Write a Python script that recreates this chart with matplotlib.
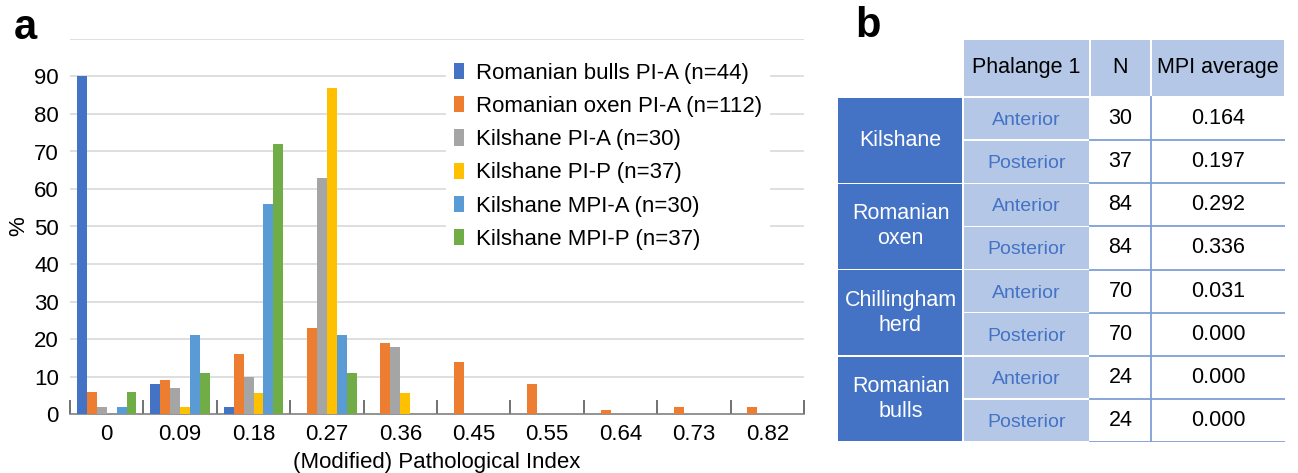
import numpy as np
import matplotlib
matplotlib.use('Agg')
from matplotlib import pyplot as plt
from matplotlib.patches import Rectangle

plt.rcParams['font.family'] = ['Liberation Sans', 'DejaVu Sans']

# ---- data, panel a ----
categories = ['0', '0.09', '0.18', '0.27', '0.36', '0.45', '0.55', '0.64', '0.73', '0.82']
series_names = ['Romanian bulls PI-A (n=44)', 'Romanian oxen PI-A (n=112)', 'Kilshane PI-A (n=30)',
                'Kilshane PI-P (n=37)', 'Kilshane MPI-A (n=30)', 'Kilshane MPI-P (n=37)']
bulls_pia = [90, 8, 2, 0, 0, 0, 0, 0, 0, 0]
oxen_pia = [6, 9, 16, 23, 19, 14, 8, 1, 2, 2]
kil_pia = [2, 7, 10, 63, 18, 0, 0, 0, 0, 0]
kil_pip = [0, 2, 5.5, 87, 5.5, 0, 0, 0, 0, 0]
kil_mpia = [2, 21, 56, 21, 0, 0, 0, 0, 0, 0]
kil_mpip = [6, 11, 72, 11, 0, 0, 0, 0, 0, 0]
colors = ['#4472C4', '#ED7D31', '#A5A5A5', '#FFC000', '#5B9BD5', '#70AD47']

# ---- data, panel b ----
table_header = ['Phalange 1', 'N', 'MPI average']
groups = ['Kilshane', 'Romanian\noxen', 'Chillingham\nherd', 'Romanian\nbulls']
phalange = ['Anterior', 'Posterior'] * 4
n_vals = [30, 37, 84, 84, 70, 70, 24, 24]
mpi_avg = [0.164, 0.197, 0.292, 0.336, 0.031, 0.000, 0.000, 0.000]

W, H = 1298, 473
fig = plt.figure(figsize=(W / 100, H / 100), dpi=100)

# ---------------- panel a ----------------
ax_h = 414 - 39
ax_w = 804 - 70
ax = fig.add_axes([70 / W, 1 - 414 / H, ax_w / W, ax_h / H])
all_series = [bulls_pia, oxen_pia, kil_pia, kil_pip, kil_mpia, kil_mpip]
x = np.arange(len(categories))
bw = 0.135
for i, s in enumerate(all_series):
    ax.bar(x + (i - 2.5) * bw, s, width=bw, color=colors[i], label=series_names[i], zorder=3)

ax.set_xlim(-0.5, len(categories) - 0.5)
ax.set_ylim(0, 100)
ax.set_yticks(np.arange(0, 100, 10))
for yv in np.arange(10, 101, 10):
    ax.axhline(yv, color='#D9D9D9', lw=1.2, zorder=1)
for sp in ['left', 'right', 'top']:
    ax.spines[sp].set_visible(False)
ax.spines['bottom'].set_color('#808080')
ax.spines['bottom'].set_linewidth(1.2)
ax.set_xticks(x)
ax.set_xticklabels(categories)
ax.set_xticks(np.arange(-0.5, len(categories)), minor=True)
ax.tick_params(axis='x', which='major', length=0, pad=7, labelsize=16)
ax.tick_params(axis='x', which='minor', direction='in', length=10, width=1.2, color='#595959')
ax.tick_params(axis='y', length=0, pad=8, labelsize=16)
ax.set_xlabel('(Modified) Pathological Index', fontsize=16, va='center')
ax.xaxis.set_label_coords(0.5, (414 - 462) / ax_h)
ax.set_ylabel('%', fontsize=16, va='center')
ax.yaxis.set_label_coords((19 - 70) / ax_w, 0.5)

leg = ax.legend(loc='upper left', bbox_to_anchor=((446 - 70) / ax_w, (414 - 55) / ax_h),
                fontsize=16, frameon=True, facecolor='white', edgecolor='none', framealpha=1,
                handlelength=0.45, handleheight=0.75, handletextpad=0.55, labelspacing=0.55,
                borderpad=0.35, borderaxespad=0, fancybox=False)
leg.set_zorder(5)

fig.text(14 / W, 1 - 28 / H, 'a', fontsize=30, fontweight='bold', va='center', ha='left')
fig.text(855 / W, 1 - 26 / H, 'b', fontsize=30, fontweight='bold', va='center', ha='left')

# ---------------- panel b ----------------
tx0, tx1, ty0, ty1 = 838, 1285, 40, 442
tb = fig.add_axes([tx0 / W, 1 - ty1 / H, (tx1 - tx0) / W, (ty1 - ty0) / H])
tb.set_xlim(0, tx1 - tx0)
tb.set_ylim(ty1 - ty0, 0)
tb.axis('off')

dark = '#4472C4'
light = '#B4C7E7'
line_c = '#7F9FD6'
cols = [0, 125, 252, 313, 447]
head_h = 57
row_h = (ty1 - ty0 - head_h) / len(phalange)
gap = 1.5

# header
for j, txt in enumerate(table_header):
    xa, xb = cols[j + 1], cols[j + 2]
    tb.add_patch(Rectangle((xa + gap / 2, 0), xb - xa - gap, head_h - gap, color=light, lw=0))
    tb.text((xa + xb) / 2, head_h / 2 - 1, txt, ha='center', va='center', fontsize=15.5, color='black')

# group cells
for g, name in enumerate(groups):
    ya = head_h + g * 2 * row_h
    tb.add_patch(Rectangle((0, ya + gap / 2), cols[1] - gap / 2, 2 * row_h - gap, color=dark, lw=0))
    tb.text(cols[1] / 2, ya + row_h, name, ha='center', va='center', fontsize=15.5, color='white',
            linespacing=1.25)

# rows
for r in range(len(phalange)):
    ya = head_h + r * row_h
    tb.add_patch(Rectangle((cols[1] + gap / 2, ya + gap / 2), cols[2] - cols[1] - gap, row_h - gap,
                           color=light, lw=0))
    tb.text((cols[1] + cols[2]) / 2, ya + row_h / 2 + 2, phalange[r], ha='center', va='center',
            fontsize=14, color=dark)
    tb.text((cols[2] + cols[3]) / 2, ya + row_h / 2, str(n_vals[r]), ha='center', va='center',
            fontsize=15.5, color='black')
    tb.text((cols[3] + cols[4]) / 2, ya + row_h / 2, '%.3f' % mpi_avg[r], ha='center', va='center',
            fontsize=15.5, color='black')
    tb.plot([cols[2], cols[4]], [ya + row_h, ya + row_h], color=line_c, lw=1.3)
tb.plot([cols[3], cols[3]], [head_h, ty1 - ty0], color=line_c, lw=1.3)

fig.savefig('out.png', dpi=100)
